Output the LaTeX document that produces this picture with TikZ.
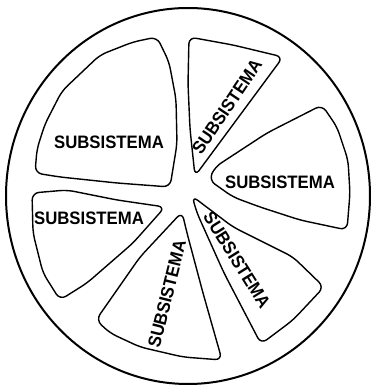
\documentclass[tikz,border=0pt]{standalone}
\usepackage{fontspec}
\setsansfont{Liberation Sans}
\tikzset{
	slice/.style={line width=1.4pt, rounded corners=7pt, line join=round},
	subtxt/.style={font=\sffamily\bfseries\fontsize{18}{18}\selectfont, inner sep=0pt, rotate=#1, xscale=0.93},
	subtxt/.default=0,
}

\begin{document}
\begin{tikzpicture}[x=1pt, y=1pt]
	\useasboundingbox (0,0) rectangle (374,389);
	\draw[line width=2pt] (188,193) ellipse [x radius=182pt, y radius=188pt];
	\draw[slice] (157,352) -- (169,327) -- (176,290) -- (177,245) -- (170,202) -- (117,206) -- (60,212) -- (35,216) -- (37,240) -- (45,265) -- (62,298) -- (100,334) -- (133,347) -- cycle;
	\draw[slice] (189,352) -- (233,344) -- (283,332) -- (195,213) -- (190,260) -- (188,305) -- cycle;
	\draw[slice] (209,209) -- (215,222) -- (267,256) -- (322,284) -- (337,262) -- (348,229) -- (350,196) -- (347,159) -- (300,169) -- (260,182) -- (233,192) -- cycle;
	\draw[slice] (192,193) -- (233,162) -- (293,132) -- (324,102) -- (293,69) -- (261,45) -- (224,116) -- (197,176) -- cycle;
	\draw[slice] (182,177) -- (187,156) -- (203,96) -- (222,29) -- (183,32) -- (140,42) -- (110,56) -- (96,69) -- (140,132) -- cycle;
	\draw[slice] (32,196) -- (67,199) -- (117,189) -- (165,182) -- (133,146) -- (87,106) -- (60,89) -- (43,116) -- (33,156) -- cycle;
	\node[subtxt] (sub1) at (109,247) {SUBSISTEMA};
	\node[subtxt=56] (sub2) at (227,282) {SUBSISTEMA};
	\node[subtxt] (sub3) at (280,207) {SUBSISTEMA};
	\node[subtxt=-58] (sub4) at (237,129) {SUBSISTEMA};
	\node[subtxt=76] (sub5) at (167,95) {SUBSISTEMA};
	\node[subtxt] (sub6) at (89,171) {SUBSISTEMA};
\end{tikzpicture}
\end{document}
